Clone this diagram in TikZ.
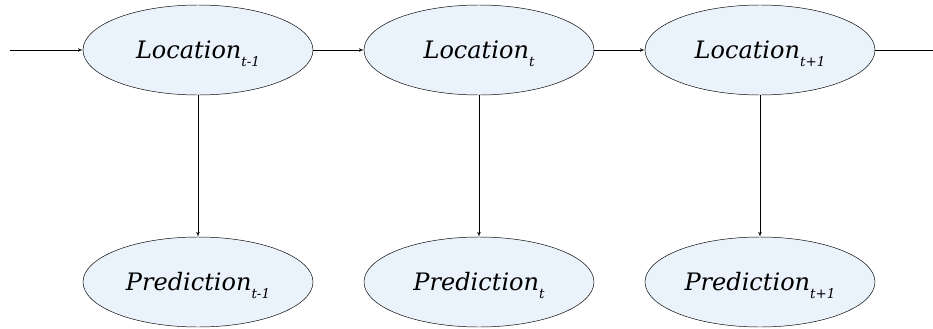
\documentclass[tikz,border=0pt]{standalone}
\usepackage{fontspec}
\setmainfont{DejaVu Serif}
\usetikzlibrary{shapes,arrows}
\definecolor{paleblue}{RGB}{234,242,251}
\newcommand{\lowsub}[1]{\raisebox{-6.5pt}[0pt][0pt]{\fontsize{11.5}{14}\selectfont #1}}
\tikzstyle{state} = [draw, fill=paleblue, ellipse, line width=0.4pt,
    minimum width=6.9cm, minimum height=2.7cm, inner sep=0pt,
    font=\fontsize{20.5}{24}\selectfont\itshape]
\tikzstyle{input} = [coordinate]
\tikzstyle{output} = [coordinate]

\begin{document}
\begin{tikzpicture}[auto, node distance=8.43cm, >=latex']
    \useasboundingbox (0,0) rectangle (27.99,-9.87);
    \node [state] at (5.94,-1.5) (l1) {Location\lowsub{t-1}};
    \node [state, right of=l1] (l2) {Location\lowsub{t}};
    \node [state, right of=l2] (l3) {Location\lowsub{t+1}};
    \node [input] at (0.3,-1.5) (in) {};
    \node [output] at (27.99,-1.5) (out) {};

    \node [state, below of=l1, node distance=6.96cm] (p1) {Prediction\lowsub{t-1}};
    \node [state, below of=l2, node distance=6.96cm] (p2) {Prediction\lowsub{t}};
    \node [state, below of=l3, node distance=6.96cm] (p3) {Prediction\lowsub{t+1}};

    \draw [->] (in) -- (l1);
    \draw [->] (l1) -- (l2);
    \draw [->] (l2) -- (l3);
    \draw (l3) -- (out);
    \draw [->] (l1) -- (p1);
    \draw [->] (l2) -- (p2);
    \draw [->] (l3) -- (p3);
\end{tikzpicture}
\end{document}
